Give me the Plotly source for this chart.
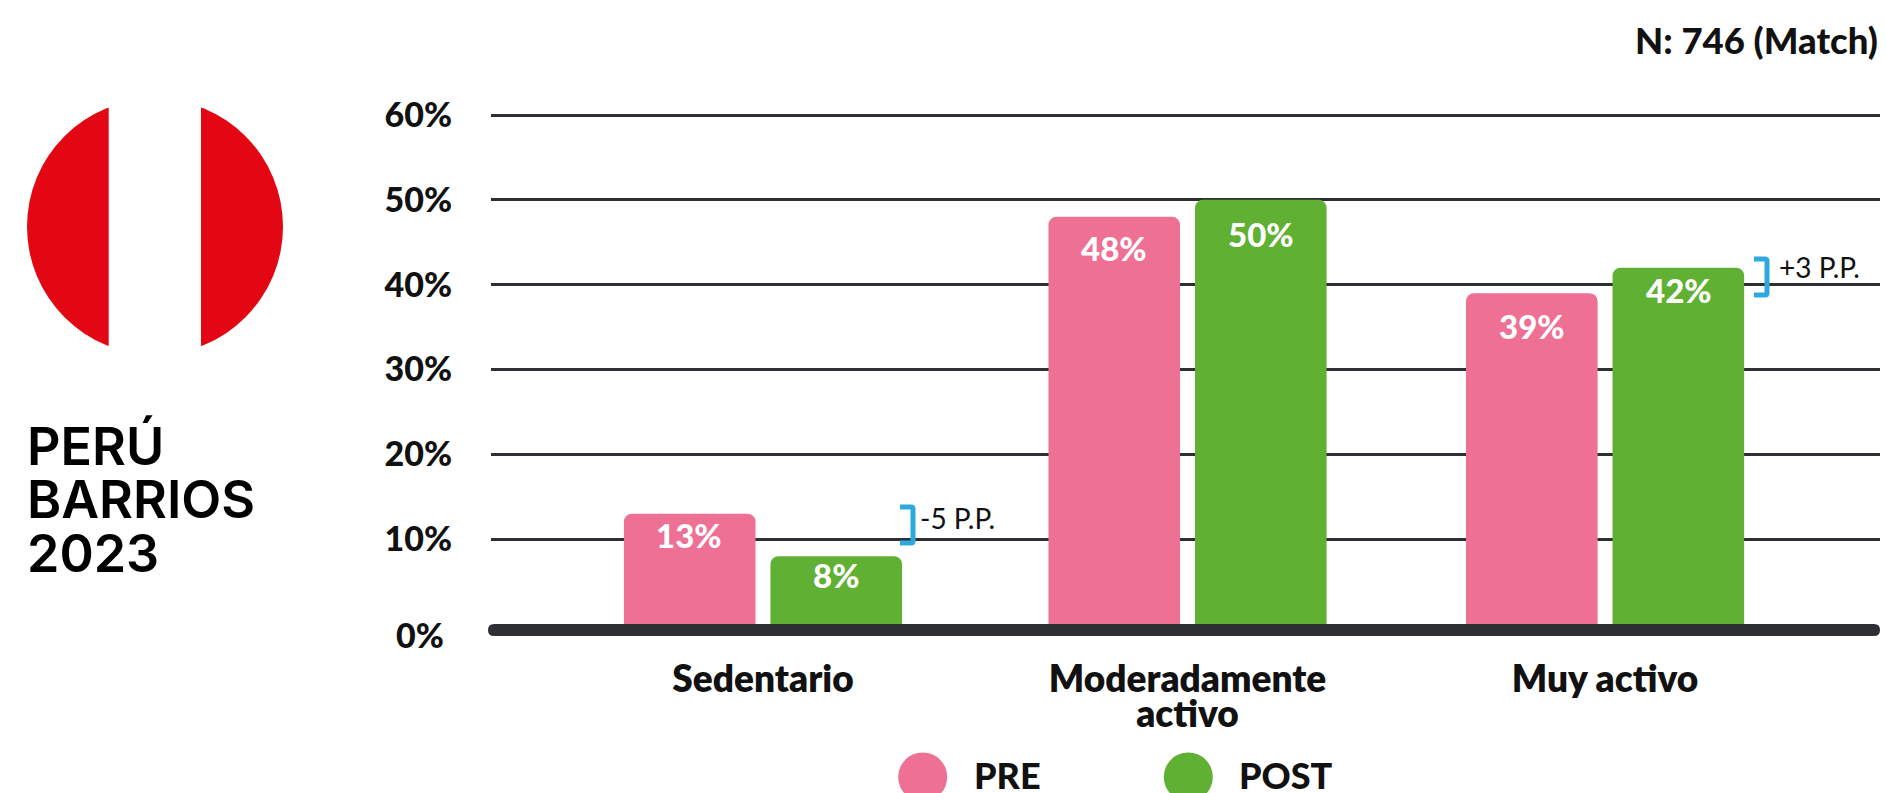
import plotly.graph_objects as go

W, H = 1886, 793
LEFT, RIGHT, TOP, BOTTOM = 491, 1880, 112, 624

categories = ["Sedentario", "Moderadamente<br>activo", "Muy activo"]
pre_values = [13, 48, 39]
post_values = [8, 50, 42]
y_ticks = [10, 20, 30, 40, 50, 60]
y_tick_labels = ["10%", "20%", "30%", "40%", "50%", "60%"]
title_lines = ["PERÚ", "BARRIOS", "2023"]
sample_note = "N: 746 (Match)"
change_labels = ["-5 P.P.", "+3 P.P."]
legend_names = ["PRE", "POST"]

# Layout of the three bar groups along the x axis, and how far each
# value label sits below the top of its bar (pixels)
group_positions = [0, 1.0083, 2.0]
pre_label_drop = [21, 31, 33]
post_label_drop = [19, 34, 22]

PINK = "#EE7094"
GREEN = "#60B033"
INK = "#111111"
GRID = "#2E2F33"
BLUE = "#2EA9E0"
RED = "#E30613"
FONT = "Lato"


def fx(px):
    return (px - LEFT) / (RIGHT - LEFT)


def fy(py):
    return (BOTTOM - py) / (BOTTOM - TOP)


def label(text, px, py, size, weight=700, anchor="left", color=INK, family=FONT):
    return dict(
        text=text, xref="paper", yref="paper", x=fx(px), y=fy(py),
        xanchor=anchor, yanchor="middle", align=anchor if anchor != "middle" else "center",
        showarrow=False, borderpad=0,
        font=dict(family=family, size=size, weight=weight, color=color),
    )


def sized(text, px):
    """Wrap each line in its own size so the line pitch follows the smaller base font."""
    return "<br>".join(
        f"<span style='font-size:{px}px'>{line}</span>" for line in text.split("<br>")
    )


def bracket(x0, x1, y0, y1):
    r = 2
    path = (
        f"M{fx(x0)},{fy(y0)} L{fx(x1 - r)},{fy(y0)} "
        f"Q{fx(x1)},{fy(y0)} {fx(x1)},{fy(y0 + r)} "
        f"L{fx(x1)},{fy(y1 - r)} Q{fx(x1)},{fy(y1)} {fx(x1 - r)},{fy(y1)} "
        f"L{fx(x0)},{fy(y1)}"
    )
    return dict(type="path", xref="paper", yref="paper", path=path,
                line=dict(color=BLUE, width=5))


def disc(cx, cy, r, color):
    return dict(type="circle", xref="paper", yref="paper",
                x0=fx(cx - r), x1=fx(cx + r), y0=fy(cy + r), y1=fy(cy - r),
                fillcolor=color, line=dict(width=0))


fig = go.Figure()
for name, values, color in (
    (legend_names[0], pre_values, PINK),
    (legend_names[1], post_values, GREEN),
):
    fig.add_bar(
        name=name, x=group_positions, y=values,
        marker=dict(color=color, line=dict(width=0)),
        hoverinfo="skip", showlegend=False,
    )

# Thick rounded baseline, sitting directly under the bars
cap = 6
baseline = (
    f"M{fx(488 + cap)},{fy(624)} L{fx(1880 - cap)},{fy(624)} "
    f"Q{fx(1880)},{fy(624)} {fx(1880)},{fy(630)} "
    f"Q{fx(1880)},{fy(636)} {fx(1880 - cap)},{fy(636)} "
    f"L{fx(488 + cap)},{fy(636)} "
    f"Q{fx(488)},{fy(636)} {fx(488)},{fy(630)} "
    f"Q{fx(488)},{fy(624)} {fx(488 + cap)},{fy(624)} Z"
)

shapes = [
    dict(type="path", xref="paper", yref="paper", path=baseline,
         fillcolor=GRID, line=dict(width=0)),
    # Peruvian flag roundel
    disc(155, 226.7, 128, RED),
    dict(type="rect", xref="paper", yref="paper",
         x0=fx(108.7), x1=fx(201), y0=fy(360), y1=fy(90),
         fillcolor="#FFFFFF", line=dict(width=0)),
    # Change brackets
    bracket(900, 913, 507, 543),
    bracket(1754, 1767, 259, 295),
    # Legend swatches
    disc(922.7, 777, 24.5, PINK),
    disc(1188.3, 777, 24.5, GREEN),
]

annotations = [
    label(sized("<br>".join(title_lines), 52), 26, 500, 41, 600,
          color="#000000", family="Inter"),
    label(sample_note, 1879, 40, 36.5, 900, anchor="right"),
    label("0%", 445, 634, 34, 900, anchor="right"),
    label(change_labels[0], 919, 518, 28, 400),
    label(change_labels[1], 1778, 267, 28, 400),
    label(legend_names[0], 973, 775, 36, 900),
    label(legend_names[1], 1238, 775, 36, 900),
]

# White value labels inside the bars, offset left or right to each bar's centre
for values, drops, shift in (
    (pre_values, pre_label_drop, -73.5),
    (post_values, post_label_drop, 73.5),
):
    for pos, value, drop in zip(group_positions, values, drops):
        annotations.append(dict(
            text=f"{value}%", xref="x", yref="y", x=pos, y=value,
            xshift=shift, yshift=-drop, yanchor="middle", showarrow=False,
            font=dict(family=FONT, size=33, weight=900, color="#FFFFFF"),
        ))

fig.update_layout(
    width=W, height=H, autosize=False,
    margin=dict(l=LEFT, r=W - RIGHT, t=TOP, b=H - BOTTOM, pad=0),
    paper_bgcolor="#FFFFFF", plot_bgcolor="#FFFFFF",
    barmode="group", bargap=0.298, bargroupgap=0.102, barcornerradius=8,
    shapes=shapes, annotations=annotations,
    font=dict(family=FONT, color=INK),
)
fig.update_xaxes(
    range=[-0.646, 2.653], tickvals=group_positions,
    ticktext=[sized(c, 37) for c in categories],
    showgrid=False, zeroline=False, showline=False,
    ticks="", ticklabelstandoff=40, automargin=False,
    tickfont=dict(family=FONT, size=27, weight=800, color=INK),
)
fig.update_yaxes(
    range=[0, (BOTTOM - TOP) / 8.483], tickvals=y_ticks, ticktext=y_tick_labels,
    showgrid=True, gridcolor=GRID, gridwidth=3, zeroline=False, showline=False,
    ticks="", ticklabelstandoff=38, automargin=False,
    tickfont=dict(family=FONT, size=34, weight=900, color=INK),
)

fig.write_html("out.html")
